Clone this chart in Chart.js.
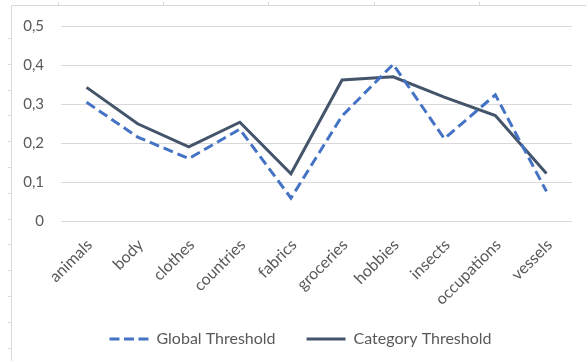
<!DOCTYPE html>
<html>
<head>
<meta charset="utf-8">
<script src="https://cdn.jsdelivr.net/npm/chart.js@4"></script>
<style>
  html, body { margin: 0; padding: 0; background: #fff; }
  #wrap { width: 586px; height: 361px; position: relative; }
</style>
</head>
<body>
<div id="wrap"><canvas id="lineChart"></canvas></div>
<script>
var categories = ["animals", "body", "clothes", "countries", "fabrics", "groceries", "hobbies", "insects", "occupations", "vessels"];
var globalThreshold = [0.305, 0.216, 0.161, 0.236, 0.060, 0.270, 0.402, 0.212, 0.324, 0.077];
var categoryThreshold = [0.343, 0.250, 0.191, 0.254, 0.122, 0.362, 0.370, 0.318, 0.271, 0.123];
var yTicks = [0, 0.1, 0.2, 0.3, 0.4, 0.5];

var textColor = "#595959";
var fontFamily = "Lato, 'Open Sans', sans-serif";

// faint spreadsheet cell borders behind the chart
var sheetBorder = {
  id: "sheetBorder",
  beforeDraw: function(chart) {
    var ctx = chart.ctx;
    ctx.save();
    ctx.strokeStyle = "#d9d9d9";
    ctx.lineWidth = 1;
    ctx.beginPath();
    ctx.moveTo(11.5, 5.5); ctx.lineTo(586, 5.5);
    ctx.moveTo(11.5, 5.5); ctx.lineTo(11.5, 361);
    [58, 163, 268, 374, 479].forEach(function(x) {
      ctx.moveTo(x + 0.5, 2); ctx.lineTo(x + 0.5, 5.5);
    });
    for (var y = 38; y < 361; y += 25.8) {
      ctx.moveTo(8, Math.round(y) + 0.5); ctx.lineTo(11.5, Math.round(y) + 0.5);
    }
    ctx.stroke();
    ctx.restore();
  }
};

// nudge the legend sideways, and let x labels hang below their box without clipping
var layoutTweaks = {
  id: "layoutTweaks",
  afterLayout: function(chart) {
    if (chart.legend) {
      chart.legend.left += 9;
      chart.legend.right += 9;
    }
    chart.scales.x.bottom += 15;
  }
};

var config = {
  type: "line",
  data: {
    labels: categories,
    datasets: [{
      label: "Global Threshold",
      data: globalThreshold,
      borderColor: "#4472C4",
      backgroundColor: "#4472C4",
      borderWidth: 3,
      borderDash: [10, 5],
      pointRadius: 0,
      tension: 0,
      fill: false
    }, {
      label: "Category Threshold",
      data: categoryThreshold,
      borderColor: "#44546A",
      backgroundColor: "#44546A",
      borderWidth: 3,
      pointRadius: 0,
      tension: 0,
      fill: false
    }]
  },
  options: {
    responsive: true,
    maintainAspectRatio: false,
    animation: false,
    layout: { padding: { left: 11, right: 14, top: 18, bottom: 4 } },
    scales: {
      x: {
        offset: true,
        grid: { display: false },
        border: { display: false },
        afterFit: function(scale) { scale.height -= 15; },
        ticks: {
          color: textColor,
          font: { family: fontFamily, size: 16 },
          minRotation: 45,
          maxRotation: 45,
          labelOffset: 3,
          padding: 6
        }
      },
      y: {
        min: 0,
        max: 0.5,
        afterBuildTicks: function(scale) {
          scale.ticks = yTicks.map(function(v) { return { value: v }; });
        },
        afterFit: function(scale) { scale.width = 50; },
        grid: { color: "#d9d9d9", lineWidth: 1, drawTicks: false },
        border: { display: false },
        ticks: {
          color: textColor,
          font: { family: fontFamily, size: 15 },
          padding: 17,
          callback: function(v) { return String(v).replace(".", ","); }
        }
      }
    },
    plugins: {
      legend: {
        position: "bottom",
        labels: {
          color: textColor,
          font: { family: fontFamily, size: 16 },
          usePointStyle: true,
          pointStyle: "line",
          pointStyleWidth: 39,
          boxHeight: 3,
          padding: 31,
          generateLabels: function(chart) {
            var items = Chart.defaults.plugins.legend.labels.generateLabels(chart);
            items.forEach(function(item, i) {
              item.lineWidth = 3;
              item.lineDash = i === 0 ? [10, 4.5] : [];
            });
            return items;
          }
        }
      },
      tooltip: { enabled: false }
    }
  },
  plugins: [sheetBorder, layoutTweaks]
};

var ctx = document.getElementById("lineChart").getContext("2d");
window.myLine = new Chart(ctx, config);
</script>
</body>
</html>
